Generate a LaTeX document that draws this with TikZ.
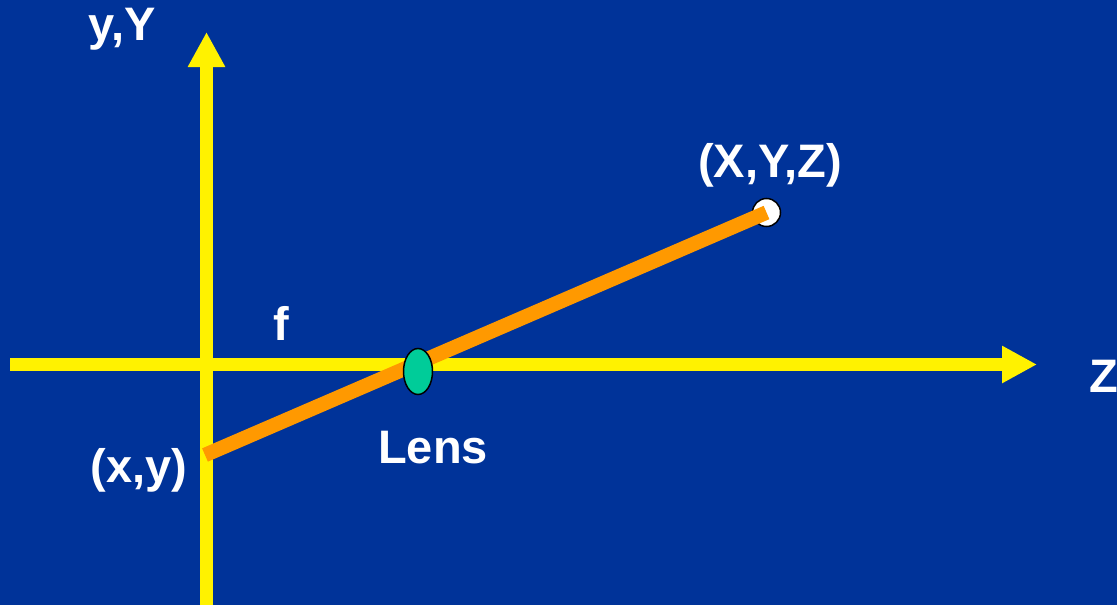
\documentclass[tikz,border=0pt]{standalone}
\usepackage{fontspec}
\setmainfont{Liberation Sans}
\usetikzlibrary{arrows.meta,positioning,shapes.geometric}
\definecolor{slideblue}{RGB}{0,51,153}
\definecolor{rayorange}{RGB}{255,153,0}
\definecolor{lensgreen}{RGB}{0,204,153}

\begin{document}
\begin{tikzpicture}[
	x=1pt, y=-1pt,
	every node/.style={font=\fontsize{47}{56}\selectfont\bfseries, text=white, inner sep=0pt},
	axis/.style={draw=yellow, line width=13pt, -{Triangle[length=35pt,width=35pt]}},
	ray/.style={draw=rayorange, line width=14.5pt},
	point/.style={circle, draw=black, line width=1.5pt, fill=white, minimum size=28pt},
	lens/.style={ellipse, draw=black, line width=1.5pt, fill=lensgreen, minimum width=29pt, minimum height=46pt}
	]
	
	\fill[slideblue] (0,0) rectangle (1117,605);
	\useasboundingbox (0,0) rectangle (1117,605);
	
	% axes
	\coordinate (zstart) at (10,364.5);
	\coordinate (zend) at (1037,364.5);
	\coordinate (ybottom) at (206.5,606);
	\coordinate (ytop) at (206.5,32);
	\draw[axis] (zstart) -- (zend);
	\draw[axis] (ybottom) -- (ytop);
	
	% object point, image point and ray through the lens
	\node[point] (obj) at (766.5,212.5) {};
	\coordinate (img) at (205,455);
	\draw[ray] (img) -- (obj.center);
	\node[lens] (lens) at (418,371.5) {};
	
	% labels
	\node[anchor=base] (ylab) at (122,40) {y,Y};
	\node[anchor=base west] (zlab) at (1089,392) {Z};
	\node[anchor=base] (flab) at (281,340) {f};
	\node[anchor=base] (objlab) at (770,177) {(X,Y,Z)};
	\node[anchor=base] (imglab) at (139,482) {(x,y)};
	\node[below=36pt of lens, xshift=15pt] (lenslab) {Lens};
	
\end{tikzpicture}
\end{document}
